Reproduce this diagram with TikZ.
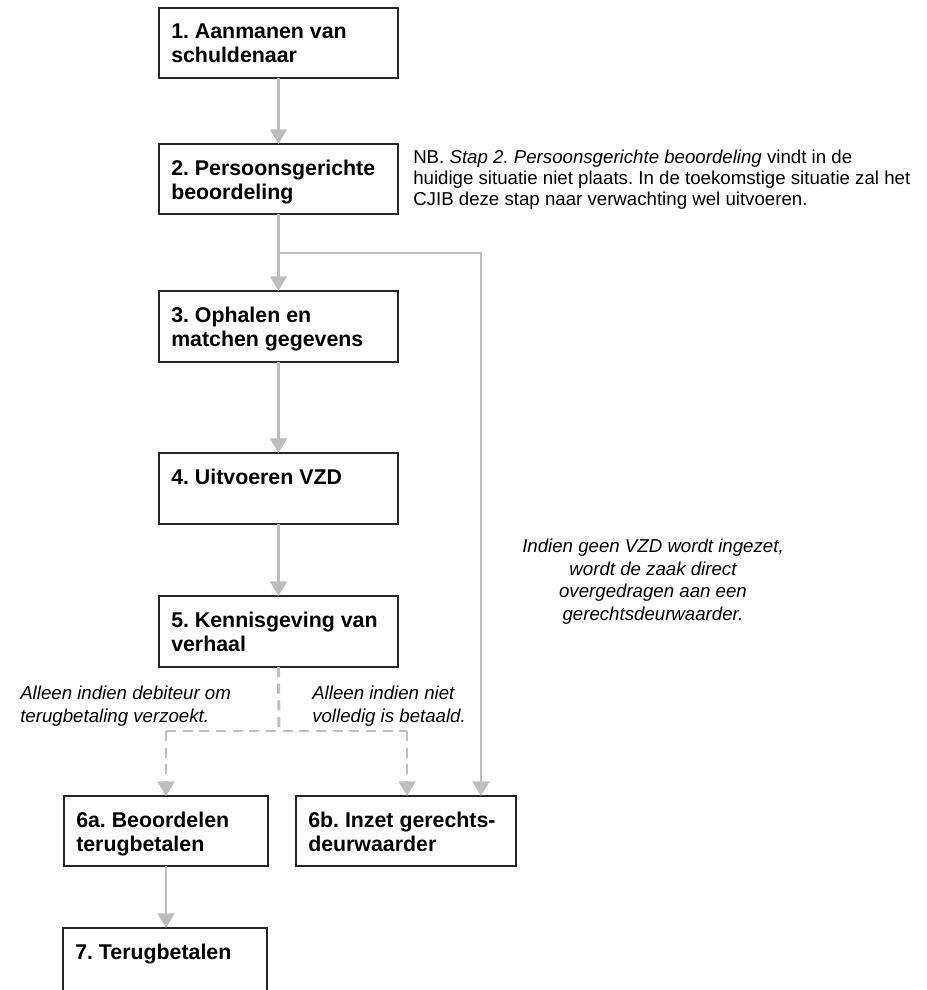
\documentclass[tikz,border=0pt]{standalone}
\usepackage{fontspec}
\setmainfont{Liberation Sans}
\usetikzlibrary{arrows.meta,shadows}
\definecolor{connc}{RGB}{190,190,190}
\frenchspacing
\begin{document}
\begin{tikzpicture}[x=0.75pt,y=-0.75pt,
  stepbox/.style={draw=black!85, fill=white, line width=0.9pt, inner sep=0pt, outer sep=0pt,
    drop shadow={shadow xshift=1pt, shadow yshift=-1pt, fill=black!45, opacity=0.6}},
  boxtxt/.style={anchor=north west, inner sep=0pt, align=left, font=\bfseries\fontsize{16}{18}\selectfont},
  note/.style={inner sep=0pt, font=\fontsize{14}{16}\selectfont},
  conn/.style={draw=connc, line width=2.2pt},
  arr/.style={conn, -{Triangle[width=12.5pt,length=11pt]}},
  dconn/.style={conn, dash pattern=on 7.5pt off 5pt},
  darr/.style={dconn, -{Triangle[width=12.5pt,length=11pt]}}
]
\useasboundingbox (0,0) rectangle (926,990);
\clip (0,0) rectangle (926,990);

\newcommand\mkbox[5]{%
  \node[stepbox, minimum width={(#4-#2)*0.75pt}, minimum height={(#5-#3)*0.75pt}]
    (#1) at ({(#2+#4)/2},{(#3+#5)/2}) {};}

% boxes
\mkbox{b1}{159}{8}{398}{78}
\mkbox{b2}{159}{144}{398}{214}
\mkbox{b3}{159}{291}{398}{362}
\mkbox{b4}{159}{453}{398}{524}
\mkbox{b5}{159}{596}{398}{667}
\mkbox{b6a}{64}{796}{268}{866}
\mkbox{b6b}{296}{796}{516}{866}
\mkbox{b7}{63}{928}{267}{1010}

% box texts
\node[boxtxt] (t1) at (171,24) {1. Aanmanen van\\schuldenaar};
\node[boxtxt] (t2) at (171,160) {2. Persoonsgerichte\\beoordeling};
\node[boxtxt] (t3) at (171,307) {3. Ophalen en\\matchen gegevens};
\node[boxtxt] (t4) at (171,469) {4. Uitvoeren VZD};
\node[boxtxt] (t5) at (171,612) {5. Kennisgeving van\\verhaal};
\node[boxtxt] (t6a) at (76,812) {6a. Beoordelen\\terugbetalen};
\node[boxtxt] (t6b) at (308,812) {6b. Inzet gerechts-\\deurwaarder};
\node[boxtxt] (t7) at (75,944) {7. Terugbetalen};

% notes
\node[note, anchor=north west, align=left, font=\fontsize{14}{15.5}\selectfont] (nb) at (413,150)
  {NB. \textit{Stap 2. Persoonsgerichte beoordeling} vindt in de\\
   huidige situatie niet plaats. In de toekomstige situatie zal het\\
   CJIB deze stap naar verwachting wel uitvoeren.};
\node[note, anchor=north, align=center, font=\itshape\fontsize{14}{16.8}\selectfont] (nvzd) at (653,539)
  {Indien geen VZD wordt ingezet,\\wordt de zaak direct\\overgedragen aan een\\gerechtsdeurwaarder.};
\node[note, anchor=north west, align=left, font=\itshape\fontsize{14}{17}\selectfont] (nl) at (20,686)
  {Alleen indien debiteur om\\terugbetaling verzoekt.};
\node[note, anchor=north west, align=left, font=\itshape\fontsize{14}{17}\selectfont] (nr) at (312,686)
  {Alleen indien niet\\volledig is betaald.};

% connectors
\coordinate (j1) at (279,253);
\coordinate (jr) at (481,253);
\coordinate (j2) at (279,731);
\coordinate (jl) at (166,731);
\coordinate (jrr) at (407,731);

\draw[arr] (b1.south) -- (b2.north);
\draw[arr] (b2.south) -- (b3.north);
\draw[arr] (j1) -- (jr) -- (jr |- b6b.north);
\draw[arr] (b3.south) -- (b4.north);
\draw[arr] (b4.south) -- (b5.north);
\draw[dconn] (b5.south) -- (j2);
\draw[dconn] (jl) -- (jrr);
\draw[darr] (jl) -- (jl |- b6a.north);
\draw[darr] (jrr) -- (jrr |- b6b.north);
\draw[arr] (b6a.south) -- (b6a.south |- b7.north);
\end{tikzpicture}
\end{document}
